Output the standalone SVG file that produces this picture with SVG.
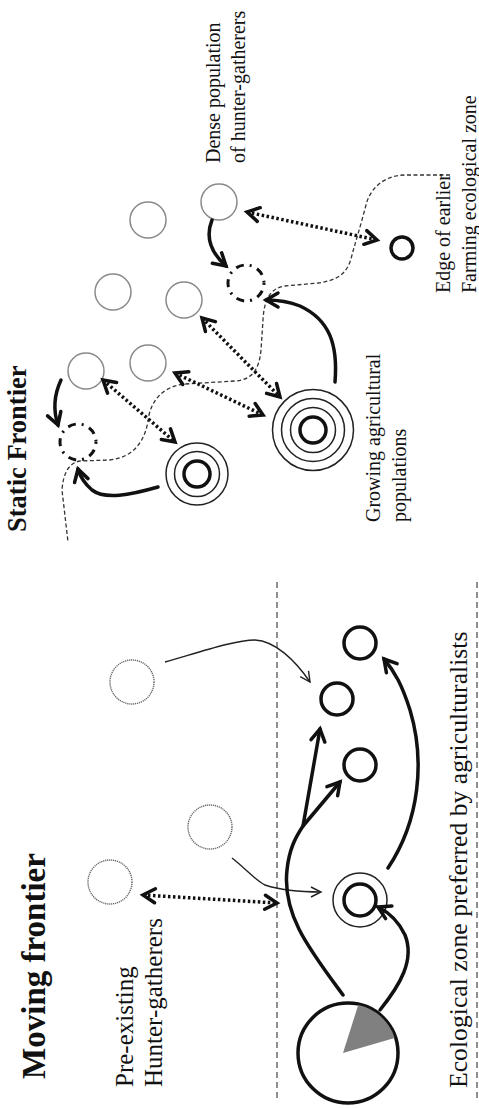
<svg xmlns="http://www.w3.org/2000/svg" width="479" height="1108" viewBox="0 0 479 1108">
  <style>
    .lbl { font-family: "Liberation Serif", "Times New Roman", serif; fill: #111; }
    .ttl { font-family: "Liberation Serif", "Times New Roman", serif; font-weight: bold; fill: #111; }
    .hg { fill: none; stroke: #666; stroke-width: 1.4; stroke-dasharray: 1.2 0.8; }
    .hg2 { fill: none; stroke: #8a8a8a; stroke-width: 1.5; }
    .farm { fill: none; stroke: #111; stroke-width: 3.5; }
    .ring { fill: none; stroke: #222; stroke-width: 1.5; }
    .absorbed { fill: none; stroke: #111; stroke-width: 3; stroke-dasharray: 2 6 8 6; }
    .zone { fill: none; stroke: #555; stroke-width: 1.3; stroke-dasharray: 6 4; }
    .edge { fill: none; stroke: #333; stroke-width: 1.3; stroke-dasharray: 4 2.5; }
    .thick { fill: none; stroke: #111; stroke-width: 3.5; stroke-linecap: round; marker-end: url(#headThick); }
    .thin { fill: none; stroke: #222; stroke-width: 1.4; marker-end: url(#headThin); }
    .contact { fill: none; stroke: #111; stroke-width: 3.5; stroke-dasharray: 2.5 2.5; marker-start: url(#headThick); marker-end: url(#headThick); }
  </style>
  <defs>
    <marker id="headThick" viewBox="0 0 20 20" refX="16" refY="10" markerWidth="20" markerHeight="20" markerUnits="userSpaceOnUse" orient="auto-start-reverse" overflow="visible">
      <path d="M4,3 L16,10 L4,17" fill="none" stroke="#111" stroke-width="3.5" stroke-linecap="round" stroke-linejoin="miter"/>
    </marker>
    <marker id="headThin" viewBox="0 0 20 20" refX="15" refY="10" markerWidth="20" markerHeight="20" markerUnits="userSpaceOnUse" orient="auto" overflow="visible">
      <path d="M5,5 L15,10 L5,15" fill="none" stroke="#222" stroke-width="1.4"/>
    </marker>
  </defs>

  <rect width="479" height="1108" fill="#fff"/>

  <!-- ===== Static frontier (upper panel) ===== -->
  <text class="ttl" font-size="26.5" transform="translate(26,532) rotate(-90)">Static Frontier</text>

  <!-- edge of the earlier farming zone -->
  <path id="frontier-edge" class="edge" d="M450,175 H405 C385,175 370,188 366,205 C360,228 356,240 352,255 C348,272 340,280 318,283 L285,286 C270,288 264,300 263,320 L261,350 C259,372 250,380 235,381 L185,384 C165,386 153,398 149,415 C146,440 135,457 110,460 L80,461 C68,463 63,475 62,490 L68,542"/>

  <g id="hg-static-1"><circle class="hg2" cx="148" cy="220" r="18"/></g>
  <g id="hg-static-2"><circle class="hg2" cx="219" cy="202" r="18"/></g>
  <g id="hg-static-3"><circle class="hg2" cx="113" cy="292" r="18"/></g>
  <g id="hg-static-4"><circle class="hg2" cx="184" cy="300" r="18"/></g>
  <g id="hg-static-5"><circle class="hg2" cx="86" cy="371" r="18"/></g>
  <g id="hg-static-6"><circle class="hg2" cx="148" cy="363" r="18"/></g>

  <g id="absorbed-1"><circle class="absorbed" cx="78" cy="442" r="18"/></g>
  <g id="absorbed-2"><circle class="absorbed" cx="246" cy="283" r="18"/></g>

  <g id="agri-growing-1">
    <circle class="ring" cx="197" cy="474" r="31"/>
    <circle class="ring" cx="197" cy="474" r="22.5"/>
    <circle class="farm" cx="197" cy="474" r="13"/>
  </g>
  <g id="agri-growing-2">
    <circle class="ring" cx="313" cy="430" r="40.5"/>
    <circle class="ring" cx="313" cy="430" r="31.5"/>
    <circle class="ring" cx="313" cy="430" r="22.5"/>
    <circle class="farm" cx="313" cy="430" r="13"/>
  </g>
  <g id="farm-edge"><circle class="farm" cx="402" cy="248" r="11"/></g>

  <g id="static-labels">
    <text class="lbl" font-size="20" transform="translate(220,163) rotate(-90)">Dense population</text>
    <text class="lbl" font-size="20" transform="translate(245,163) rotate(-90)">of hunter-gatherers</text>
    <text class="lbl" font-size="20" transform="translate(380,522) rotate(-90)">Growing agricultural</text>
    <text class="lbl" font-size="20" transform="translate(406,522) rotate(-90)">populations</text>
    <text class="lbl" font-size="20" transform="translate(450,293) rotate(-90)">Edge of earlier</text>
    <text class="lbl" font-size="20" transform="translate(476,293) rotate(-90)">Farming ecological zone</text>
  </g>

  <g id="static-connectors">
    <path class="contact" d="M247,212 L377,240"/>
    <path class="contact" d="M103,380 L175,442"/>
    <path class="contact" d="M175,373 L263,415"/>
    <path class="contact" d="M202,318 L280,397"/>
    <path class="thick" d="M158,487 C130,495 105,500 92,490 C85,484 80,476 78,469"/>
    <path class="thick" d="M61,380 C54,395 53,410 58,425"/>
    <path class="thick" d="M212,220 C206,235 208,250 226,266"/>
    <path class="thick" d="M335,382 C338,345 330,320 300,306 C290,302 278,300 266,300"/>
  </g>

  <!-- ===== Moving frontier (lower panel) ===== -->
  <text class="ttl" font-size="33" text-anchor="middle" transform="translate(45,966) rotate(-90)">Moving frontier</text>

  <g id="zone-bounds">
    <line class="zone" x1="277" y1="582" x2="277" y2="1098"/>
    <line class="zone" x1="477" y1="582" x2="477" y2="1100"/>
  </g>

  <g id="moving-labels">
    <text class="lbl" font-size="25" transform="translate(133,1087) rotate(-90)">Pre-existing</text>
    <text class="lbl" font-size="25" transform="translate(162,1087) rotate(-90)">Hunter-gatherers</text>
    <text class="lbl" font-size="25.7" transform="translate(467,1088) rotate(-90)">Ecological zone preferred by agriculturalists</text>
  </g>

  <g id="hg-moving-1"><circle class="hg" cx="110" cy="882" r="22"/></g>
  <g id="hg-moving-2"><circle class="hg" cx="210" cy="827" r="22"/></g>
  <g id="hg-moving-3"><circle class="hg" cx="132" cy="682" r="22"/></g>

  <g id="agri-origin">
    <circle class="farm" cx="348" cy="1053" r="50"/>
    <path d="M343,1053 L358.2,1005.1 A49,49 0 0 1 394.6,1037.9 Z" fill="#808080"/>
  </g>
  <g id="agri-settled">
    <circle class="ring" cx="360" cy="900" r="27"/>
    <circle class="farm" cx="360" cy="900" r="16"/>
  </g>
  <g id="agri-new-1"><circle class="farm" cx="360" cy="643" r="16"/></g>
  <g id="agri-new-2"><circle class="farm" cx="337" cy="699" r="16"/></g>
  <g id="agri-new-3"><circle class="farm" cx="360" cy="765" r="16"/></g>

  <g id="moving-connectors">
    <path class="contact" d="M143,895 L277,903"/>
    <path class="thin" d="M165,662 C200,652 235,640 255,640 C275,641 295,660 310,682"/>
    <path class="thin" d="M232,858 C245,868 255,880 265,885 C280,890 300,892 321,892"/>
    <path class="thick" d="M343,995 C310,950 282,915 287,870 C289,850 295,838 303,826 L320,729"/>
    <path class="thick" d="M303,826 L340,782"/>
    <path class="thick" d="M380,1010 C400,985 415,960 405,935 C398,920 388,912 378,907"/>
    <path class="thick" d="M388,868 C420,820 425,760 410,710 C402,685 395,672 384,659"/>
  </g>
</svg>
